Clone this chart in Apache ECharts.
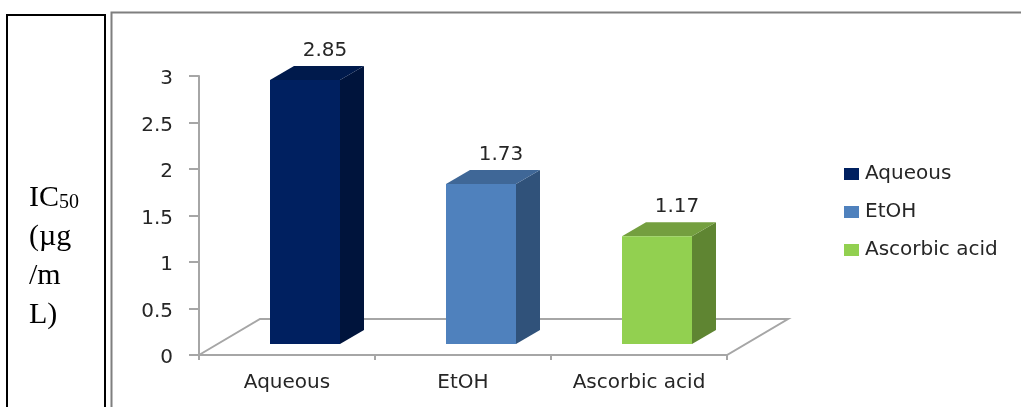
<!DOCTYPE html>
<html>
<head>
<meta charset="utf-8">
<style>
  html, body { margin: 0; padding: 0; background: #fff; }
  #chart { width: 1021px; height: 407px; }
</style>
<script src="https://cdn.jsdelivr.net/npm/echarts@6/dist/echarts.min.js"></script>
</head>
<body>
<div id="chart"></div>
<script>
const categories = ['Aqueous', 'EtOH', 'Ascorbic acid'];
const values = [2.85, 1.73, 1.17];
const yTicks = [0, 3, 0.5];

const frontColors = ['#002060', '#4f81bd', '#92d050'];
const topColors = ['#001a4c', '#3f6797', '#749f3f'];
const sideColors = ['#00143c', '#30527a', '#5f8532'];

const textColor = '#262626';
const axisColor = '#a6a6a6';
const labelFont = 'DejaVu Sans';
const labelSize = 20;

// fake 3d depth, in pixels
const depthX = 24;
const depthY = 14;
const floorX = 61;
const floorY = 36;
const floorLift = 10;
const barWidth = 70;
const barShift = 18;

const chart = echarts.init(document.getElementById('chart'));

function renderBar(index) {
  return function (params, api) {
    const base = api.coord([api.value(0), 0]);
    const tip = api.coord([api.value(0), api.value(1)]);
    const x0 = base[0] + barShift - barWidth / 2;
    const x1 = x0 + barWidth;
    const y0 = base[1] - floorLift - 1;
    const y1 = tip[1] - floorLift;
    return {
      type: 'group',
      children: [
        {
          type: 'polygon',
          shape: { points: [[x1, y1], [x1 + depthX, y1 - depthY], [x1 + depthX, y0 - depthY], [x1, y0]] },
          style: { fill: sideColors[index] }
        },
        {
          type: 'polygon',
          shape: { points: [[x0, y1], [x0 + depthX, y1 - depthY], [x1 + depthX, y1 - depthY], [x1, y1]] },
          style: { fill: topColors[index] }
        },
        {
          type: 'rect',
          shape: { x: x0, y: y1, width: barWidth, height: y0 - y1 },
          style: { fill: frontColors[index] }
        },
        {
          type: 'text',
          style: {
            x: x0 + barWidth / 2 + 20,
            y: y1 - depthY - 15,
            text: String(values[index]),
            fill: textColor,
            font: labelSize + 'px "' + labelFont + '"',
            align: 'center',
            verticalAlign: 'middle'
          }
        }
      ]
    };
  };
}

function renderFloor(params, api) {
  const sys = params.coordSys;
  const left = sys.x;
  const right = sys.x + sys.width;
  const bottom = sys.y + sys.height;
  return {
    type: 'polygon',
    shape: {
      points: [
        [left, bottom],
        [left + floorX, bottom - floorY],
        [right + floorX, bottom - floorY],
        [right, bottom]
      ]
    },
    style: { fill: '#fff', stroke: axisColor, lineWidth: 2 }
  };
}

const barSeries = categories.map(function (name, i) {
  return {
    name: name,
    type: 'custom',
    z: 5,
    clip: false,
    itemStyle: { color: frontColors[i] },
    renderItem: renderBar(i),
    encode: { x: 0, y: 1 },
    data: [[i, values[i]]]
  };
});

const floorSeries = {
  name: 'floor',
  type: 'custom',
  z: 1,
  clip: false,
  silent: true,
  renderItem: renderFloor,
  data: [[0, 0]]
};

const option = {
  animation: false,
  backgroundColor: '#fff',
  legend: {
    orient: 'vertical',
    left: 839,
    top: 159,
    icon: 'rect',
    itemWidth: 15,
    itemHeight: 12,
    itemGap: 18,
    data: categories,
    textStyle: { color: textColor, fontFamily: labelFont, fontSize: labelSize, padding: [0, 0, 0, 1] }
  },
  grid: { left: 199, top: 76, width: 528, height: 279 },
  xAxis: {
    type: 'category',
    data: categories,
    z: 3,
    axisLine: { lineStyle: { color: axisColor, width: 2 } },
    axisTick: { show: true, length: 5, lineStyle: { color: axisColor, width: 2 } },
    axisLabel: { color: textColor, fontFamily: labelFont, fontSize: labelSize, margin: 18 }
  },
  yAxis: {
    type: 'value',
    min: yTicks[0],
    max: yTicks[1],
    interval: yTicks[2],
    z: 3,
    splitLine: { show: false },
    axisLine: { show: true, lineStyle: { color: axisColor, width: 2 } },
    axisTick: { show: true, length: 10, lineStyle: { color: axisColor, width: 2 } },
    // labels sit a little under their ticks in the original
    axisLabel: { color: textColor, fontFamily: labelFont, fontSize: labelSize, margin: 26, verticalAlign: 'top', lineHeight: 6 }
  },
  graphic: [
    {
      type: 'rect',
      z: -1,
      shape: { x: 7, y: 15, width: 98, height: 420 },
      style: { fill: 'none', stroke: '#000', lineWidth: 2 }
    },
    {
      type: 'rect',
      z: -1,
      shape: { x: 111.5, y: 12.5, width: 940, height: 420 },
      style: { fill: 'none', stroke: '#7f7f7f', lineWidth: 2 }
    },
    {
      type: 'text',
      left: 29,
      top: 183,
      style: {
        text: '{a|IC}{b|50}\n{a|(µg}\n{a|/m}\n{a|L)}',
        rich: {
          a: { fontFamily: 'Liberation Serif', fontSize: 30, lineHeight: 39, fill: '#000', verticalAlign: 'bottom' },
          b: { fontFamily: 'Liberation Serif', fontSize: 20, lineHeight: 39, fill: '#000', verticalAlign: 'bottom' }
        }
      }
    }
  ],
  series: [floorSeries].concat(barSeries)
};

chart.setOption(option);
</script>
</body>
</html>
